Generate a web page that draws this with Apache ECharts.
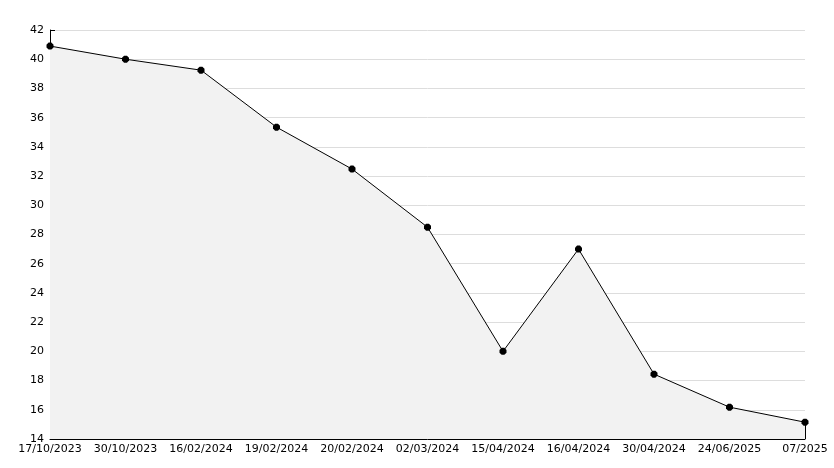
<!DOCTYPE html>
<html><head><meta charset="utf-8">
<script src="https://cdn.jsdelivr.net/npm/echarts@6/dist/echarts.min.js"></script>
<style>html,body{margin:0;padding:0;background:#fff}#c{width:834px;height:468px}</style>
</head><body><div id="c"></div>
<script>
const categories = ["17/10/2023","30/10/2023","16/02/2024","19/02/2024","20/02/2024","02/03/2024","15/04/2024","16/04/2024","30/04/2024","24/06/2025","07/2025"];
const values = [40.9, 40.0, 39.25, 35.35, 32.48, 28.5, 20.0, 27.0, 18.44, 16.18, 15.15];
const yTicks = {min: 14, max: 42, interval: 2};

const font = "DejaVu Sans";
const chart = echarts.init(document.getElementById('c'), null, {renderer: 'canvas'});
const lastIdx = categories.length - 1;
chart.setOption({
  animation: false,
  grid: {left: 50, right: 29, top: 30, bottom: 29, containLabel: false},
  xAxis: {
    type: 'category', data: categories, boundaryGap: false,
    axisLine: {show: true, lineStyle: {color: '#000', width: 1}},
    axisTick: {show: true, inside: true, length: 5, lineStyle: {color: '#000'}},
    axisLabel: {color: '#000', fontFamily: font, fontSize: 11, margin: 5, interval: 0},
    splitLine: {show: false}
  },
  yAxis: {
    type: 'value', min: yTicks.min, max: yTicks.max, interval: yTicks.interval,
    axisLine: {show: true, lineStyle: {color: '#000', width: 1}},
    axisTick: {show: true, inside: true, length: 5, lineStyle: {color: '#000'}},
    minorTick: {show: true, splitNumber: 2, length: 3, lineStyle: {color: '#000'}},
    axisLabel: {color: '#000', fontFamily: font, fontSize: 11, margin: 6},
    splitLine: {show: true, lineStyle: {color: '#dddddd', width: 1}}
  },
  series: [{
    type: 'line', data: values,
    symbol: 'path://M-0.4,-1L0.4,-1L1,-0.4L1,0.4L0.4,1L-0.4,1L-1,0.4L-1,-0.4Z',
    symbolSize: 7,
    itemStyle: {color: '#000', borderColor: '#000', borderWidth: 0},
    lineStyle: {color: '#000', width: 1},
    areaStyle: {color: '#f2f2f2', opacity: 1},
    markLine: {
      silent: true, symbol: 'none', label: {show: false},
      lineStyle: {color: '#000', width: 1, type: 'solid'},
      data: [[{coord: [lastIdx, yTicks.min]}, {coord: [lastIdx, values[lastIdx]]}]]
    }
  }]
});
</script></body></html>
